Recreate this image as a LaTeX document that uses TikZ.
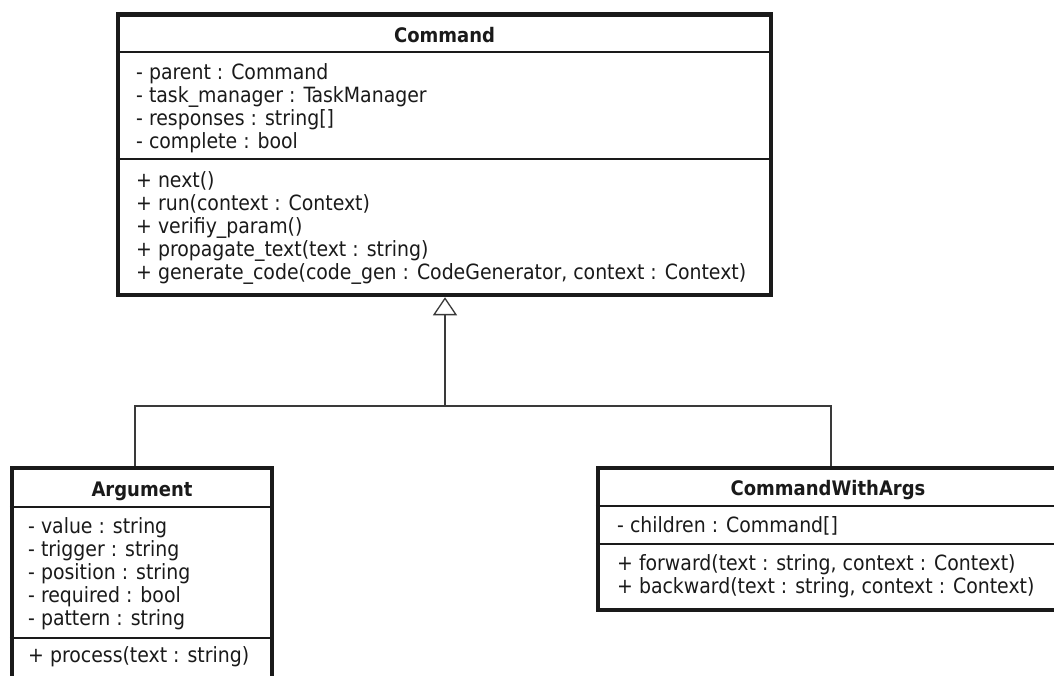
\documentclass[tikz,border=0pt]{standalone}
\usepackage{fontspec}
\setmainfont{DejaVu Sans Condensed}
\usetikzlibrary{arrows.meta}

\definecolor{ink}{HTML}{1A1A1A}
\definecolor{wire}{HTML}{3A3A3A}

\tikzset{
  classbox/.style={draw=ink, line width=4.5pt, fill=white, inner sep=0pt},
  divider/.style={draw=ink, line width=1.3pt},
  member/.style={anchor=base west, inner sep=0pt, text=ink,
    font=\fontsize{21}{25}\selectfont},
  classname/.style={anchor=base, inner sep=0pt, text=ink,
    font=\fontsize{20}{24}\selectfont\bfseries},
  wireline/.style={draw=wire, line width=1.3pt},
  inherit/.style={-{Triangle[open, length=18pt, width=24pt]}, draw=wire, line width=1.3pt}
}

\begin{document}
\begin{tikzpicture}[x=1pt, y=-1pt]
\useasboundingbox (0,0) rectangle (1054,675);
\clip (0,0) rectangle (1054,675);
\fill[white] (0,0) rectangle (1054,675);

% ---------- Command ----------
\node[classbox, minimum width=653pt, minimum height=280.5pt] (command) at (444.5,154.75) {};
\draw[divider] (command.west |- 0,52) -- (command.east |- 0,52);
\draw[divider] (command.west |- 0,159) -- (command.east |- 0,159);
\node[classname] (cmdtitle) at (444.5,42) {Command};
\node[member] (c1) at (136,79)    {- parent : Command};
\node[member] (c2) at (136,102.3) {- task\_manager : TaskManager};
\node[member] (c3) at (136,125.6) {- responses : string[]};
\node[member] (c4) at (136,148.9) {- complete : bool};
\node[member] (m1) at (136,187)   {+ next()};
\node[member] (m2) at (136,210)   {+ run(context : Context)};
\node[member] (m3) at (136,233)   {+ verifiy\_param()};
\node[member] (m4) at (136,256)   {+ propagate\_text(text : string)};
\node[member] (m5) at (136,279)   {+ generate\_code(code\_gen : CodeGenerator, context : Context)};

% ---------- Argument ----------
\node[classbox, minimum width=260pt, minimum height=240pt] (argument) at (142,588) {};
\draw[divider] (argument.west |- 0,507) -- (argument.east |- 0,507);
\draw[divider] (argument.west |- 0,638) -- (argument.east |- 0,638);
\node[classname] (argtitle) at (142,496) {Argument};
\node[member] (a1) at (28,533) {- value : string};
\node[member] (a2) at (28,556) {- trigger : string};
\node[member] (a3) at (28,579) {- position : string};
\node[member] (a4) at (28,602) {- required : bool};
\node[member] (a5) at (28,625) {- pattern : string};
\node[member] (a6) at (28,662) {+ process(text : string)};

% ---------- CommandWithArgs ----------
\node[classbox, minimum width=460pt, minimum height=142pt] (cwa) at (828,539) {};
\draw[divider] (cwa.west |- 0,506) -- (cwa.east |- 0,506);
\draw[divider] (cwa.west |- 0,544) -- (cwa.east |- 0,544);
\node[classname] (cwatitle) at (828,495) {CommandWithArgs};
\node[member] (w1) at (617,532) {- children : Command[]};
\node[member] (w2) at (617,570) {+ forward(text : string, context : Context)};
\node[member] (w3) at (617,593) {+ backward(text : string, context : Context)};

% ---------- generalisation ----------
\coordinate (hub) at (445,406);
\draw[inherit] (hub) -- (command.south -| hub);
\draw[wireline] ([xshift=-7pt]argument.north) |- (hub);
\draw[wireline] ([xshift=3pt]cwa.north) |- (hub);
\end{tikzpicture}
\end{document}
